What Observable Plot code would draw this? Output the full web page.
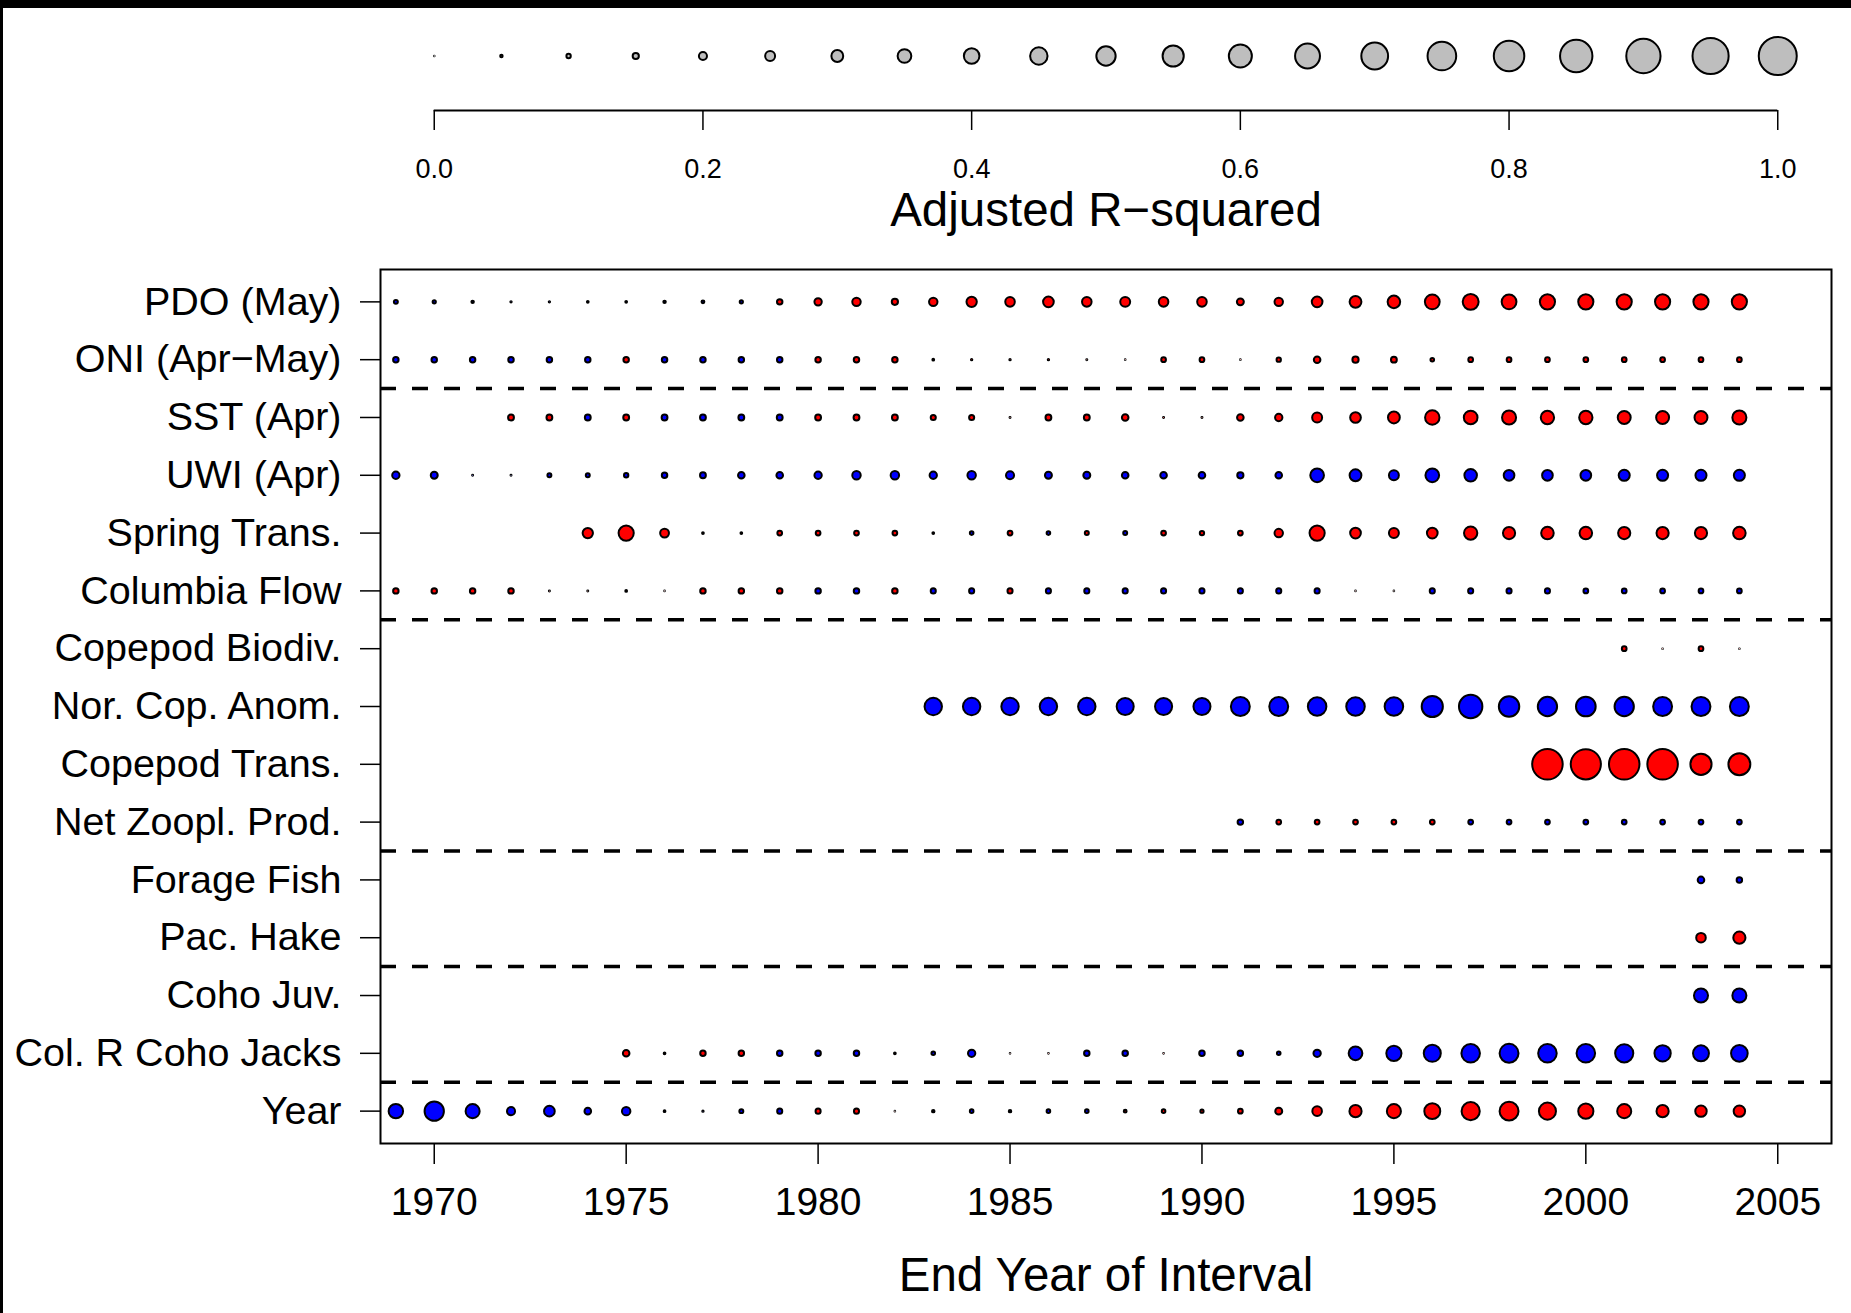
<!DOCTYPE html>
<html>
<head>
<meta charset="utf-8">
<script src="https://cdn.jsdelivr.net/npm/d3@7"></script>
<script src="https://cdn.jsdelivr.net/npm/@observablehq/plot@0.6"></script>
<style>
  html, body { margin: 0; padding: 0; background: #ffffff; }
  body { width: 1851px; height: 1313px; overflow: hidden; position: relative;
         font-family: "Liberation Sans", Arial, Helvetica, sans-serif; }
  #legend { position: absolute; left: 0; top: 0; }
  #chart { position: absolute; left: 0; top: 250px; }
  .edge-top { position: absolute; left: 0; top: 0; width: 1851px; height: 8px; background: #000; }
  .edge-left { position: absolute; left: 0; top: 0; width: 3px; height: 1313px; background: #000; }
</style>
</head>
<body>
<div id="legend"></div>
<div id="chart"></div>
<div class="edge-top"></div>
<div class="edge-left"></div>
<script>
// ---------- Data ----------
const categories = [
  "PDO (May)", "ONI (Apr\u2212May)", "SST (Apr)", "UWI (Apr)", "Spring Trans.",
  "Columbia Flow", "Copepod Biodiv.", "Nor. Cop. Anom.", "Copepod Trans.",
  "Net Zoopl. Prod.", "Forage Fish", "Pac. Hake", "Coho Juv.",
  "Col. R Coho Jacks", "Year"
];
// number of rows in each block separated by dashed lines
const groupSizes = [2, 4, 4, 2, 2, 1];
// first end-year of each row
const startYears = [1969, 1969, 1972, 1969, 1974, 1969, 2001, 1983, 1999, 1991, 2003, 2003, 2003, 1975, 1969];
// adjusted R-squared, sign: positive = red, negative = blue
const pdo = [-0.09,-0.07,-0.05,-0.02,-0.02,-0.03,-0.03,-0.05,-0.06,-0.07,
  0.13,0.18,0.21,0.15,0.21,0.26,0.24,0.27,0.24,
  0.25,0.24,0.24,0.17,0.21,0.27,0.30,0.32,0.38,0.41,0.38,0.39,0.39,0.39,0.39,0.39,0.39];
const oni = [-0.13,-0.13,-0.13,-0.13,-0.13,-0.13,0.13,-0.13,-0.13,-0.13,-0.13,0.13,0.13,0.13,
  0.03,0.02,0.02,0.02,0.01,
  0.0,0.11,0.11,0.0,0.10,0.16,0.15,0.14,0.08,0.11,0.11,0.11,0.11,0.11,0.11,0.11,0.11];
const sst = [0.14,0.14,-0.14,0.14,-0.14,-0.14,-0.14,-0.14,0.14,0.14,0.14,0.12,0.12,0.01,0.14,0.14,
  0.16,0.01,0.01,0.16,0.18,0.25,0.27,0.30,0.37,0.35,0.36,0.34,0.34,0.33,0.33,0.33,0.36];
const uwi = [-0.18,-0.17,-0.01,-0.01,-0.09,-0.09,-0.10,-0.13,-0.14,-0.16,-0.16,-0.18,-0.21,-0.21,-0.18,-0.21,-0.20,-0.17,-0.17,
  -0.16,-0.16,-0.16,-0.15,-0.16,-0.35,-0.30,-0.25,-0.35,-0.32,-0.27,-0.27,-0.27,-0.28,-0.28,-0.28,-0.28];
const springTrans = [0.26,0.39,0.22,0.03,0.03,0.11,0.11,0.11,0.11,0.03,-0.08,0.11,-0.08,0.09,
  -0.09,0.11,0.10,0.11,0.21,0.39,0.27,0.25,0.27,0.34,0.31,0.32,0.32,0.31,0.31,0.31,0.32];
const columbiaFlow = [0.13,0.13,0.13,0.13,0.01,0.01,0.03,0.0,0.13,0.13,0.13,-0.13,-0.13,0.13,-0.12,-0.12,0.12,-0.12,-0.12,
  -0.12,-0.12,-0.12,-0.12,-0.12,-0.12,0.0,0.0,-0.12,-0.12,-0.12,-0.12,-0.11,-0.11,-0.11,-0.11,-0.11];
const copepodBiodiv = [0.11, 0.0, 0.11, 0.0];
const norCopAnom = [-0.45,-0.45,-0.45,-0.45,-0.45,
  -0.44,-0.44,-0.44,-0.49,-0.49,-0.48,-0.48,-0.48,-0.55,-0.61,-0.53,-0.50,-0.51,-0.50,-0.49,-0.49,-0.49];
const copepodTrans = [0.80, 0.79, 0.80, 0.80, 0.55, 0.57];
const netZooplProd = [-0.13,0.11,0.11,0.11,0.11,0.11,-0.11,-0.11,-0.11,-0.11,-0.11,-0.11,-0.11,-0.11];
const forageFish = [-0.16, -0.13];
const pacHake = [0.24, 0.31];
const cohoJuv = [-0.36, -0.36];
const cohoJacks = [0.16,0.03,0.13,0.13,-0.13,-0.13,-0.13,0.03,-0.08,-0.18,0.0,0.0,-0.13,
  -0.13,0.0,-0.13,-0.13,-0.08,-0.18,-0.35,-0.39,-0.44,-0.48,-0.49,-0.48,-0.48,-0.47,-0.42,-0.41,-0.43];
const yearTrend = [-0.37,-0.50,-0.36,-0.20,-0.27,-0.16,-0.21,-0.03,-0.02,-0.09,-0.12,0.12,0.12,0.0,-0.05,-0.08,-0.05,-0.08,-0.08,
  0.06,0.08,0.07,0.11,0.17,0.24,0.31,0.36,0.41,0.47,0.49,0.44,0.39,0.36,0.31,0.29,0.29];

const seriesList = [pdo, oni, sst, uwi, springTrans, columbiaFlow, copepodBiodiv, norCopAnom,
  copepodTrans, netZooplProd, forageFish, pacHake, cohoJuv, cohoJacks, yearTrend];

const xTicks = [1970, 1975, 1980, 1985, 1990, 1995, 2000, 2005];
const legendLevels = [0, 0.05, 0.1, 0.15, 0.2, 0.25, 0.3, 0.35, 0.4, 0.45, 0.5,
  0.55, 0.6, 0.65, 0.7, 0.75, 0.8, 0.85, 0.9, 0.95, 1.0];
const legendTicks = [0, 0.2, 0.4, 0.6, 0.8, 1.0];

// ---------- Derived table ----------
const table = [];
seriesList.forEach((vals, i) => {
  vals.forEach((v, j) => {
    table.push({row: i + 1, year: startYears[i] + j, r2: Math.abs(v), sign: v < 0 ? "neg" : "pos"});
  });
});
const separators = [];
groupSizes.slice(0, -1).reduce((acc, g) => { separators.push(acc + g + 0.5); return acc + g; }, 0);

// R-style 4% padding of axis ranges
const xPad = (xTicks[xTicks.length - 1] - xTicks[0]) * 0.04;
const xDomain = [xTicks[0] - xPad, xTicks[xTicks.length - 1] + xPad];
const yPad = (categories.length - 1) * 0.04;
const yDomain = [categories.length + yPad, 1 - yPad];

const W = 1851;
const FONT = "Liberation Sans, Arial, Helvetica, sans-serif";
const rScale = {type: "linear", domain: [0, 1], range: [0.3, 19]};

const mLeft = 380, mRight = 20;
const plotW = W - mLeft - mRight;
const xToPx = v => mLeft + (v - xDomain[0]) / (xDomain[1] - xDomain[0]) * plotW;

// ---------- Legend ----------
const legend = Plot.plot({
  width: W, height: 250,
  marginTop: 1, marginBottom: 140,
  marginLeft: xToPx(xTicks[0]), marginRight: W - xToPx(xTicks[xTicks.length - 1]),
  style: {fontFamily: FONT, color: "black", background: "transparent", overflow: "visible"},
  x: {domain: [0, 1], axis: null},
  y: {domain: [0, 1], axis: null},
  r: rScale,
  marks: [
    Plot.dot(legendLevels, {x: d => d, r: d => d, frameAnchor: "middle",
      fill: "#BEBEBE", stroke: "black", strokeWidth: 2}),
    Plot.ruleY([0], {x1: d3.min(legendLevels), x2: d3.max(legendLevels), stroke: "black", strokeWidth: 2}),
    Plot.axisX({ticks: legendTicks, tickFormat: d => d.toFixed(1), tickSize: 20, tickPadding: 28,
      fontSize: 27, strokeWidth: 1.5, label: null}),
    Plot.text(["Adjusted R\u2212squared"], {frameAnchor: "bottom", dy: 100, lineAnchor: "middle", fontSize: 47.5})
  ]
});
document.getElementById("legend").appendChild(legend);

// ---------- Main chart ----------
const chart = Plot.plot({
  width: W, height: 1063,
  marginTop: 19, marginBottom: 170, marginLeft: mLeft, marginRight: mRight,
  style: {fontFamily: FONT, color: "black", background: "transparent", overflow: "visible"},
  x: {domain: xDomain, axis: null},
  y: {domain: yDomain, axis: null},
  r: rScale,
  color: {domain: ["pos", "neg"], range: ["#FF0000", "#0000FF"]},
  marks: [
    Plot.axisX({ticks: xTicks, tickFormat: d => String(d), tickSize: 21, tickPadding: 23,
      fontSize: 39, strokeWidth: 1.5, label: null}),
    Plot.axisY({ticks: categories.map((c, i) => i + 1), tickFormat: i => categories[i - 1],
      tickSize: 20, tickPadding: 19, fontSize: 39.5, strokeWidth: 1.5, label: null}),
    Plot.ruleY(separators, {stroke: "black", strokeWidth: 3.5, strokeDasharray: "16,16"}),
    Plot.dot(table, {x: "year", y: "row", r: "r2", fill: "sign", stroke: "black", strokeWidth: 2}),
    Plot.frame({stroke: "black", strokeWidth: 2}),
    Plot.text(["End Year of Interval"], {frameAnchor: "bottom", dy: 132, lineAnchor: "middle", fontSize: 47.5})
  ]
});
document.getElementById("chart").appendChild(chart);
</script>
</body>
</html>
